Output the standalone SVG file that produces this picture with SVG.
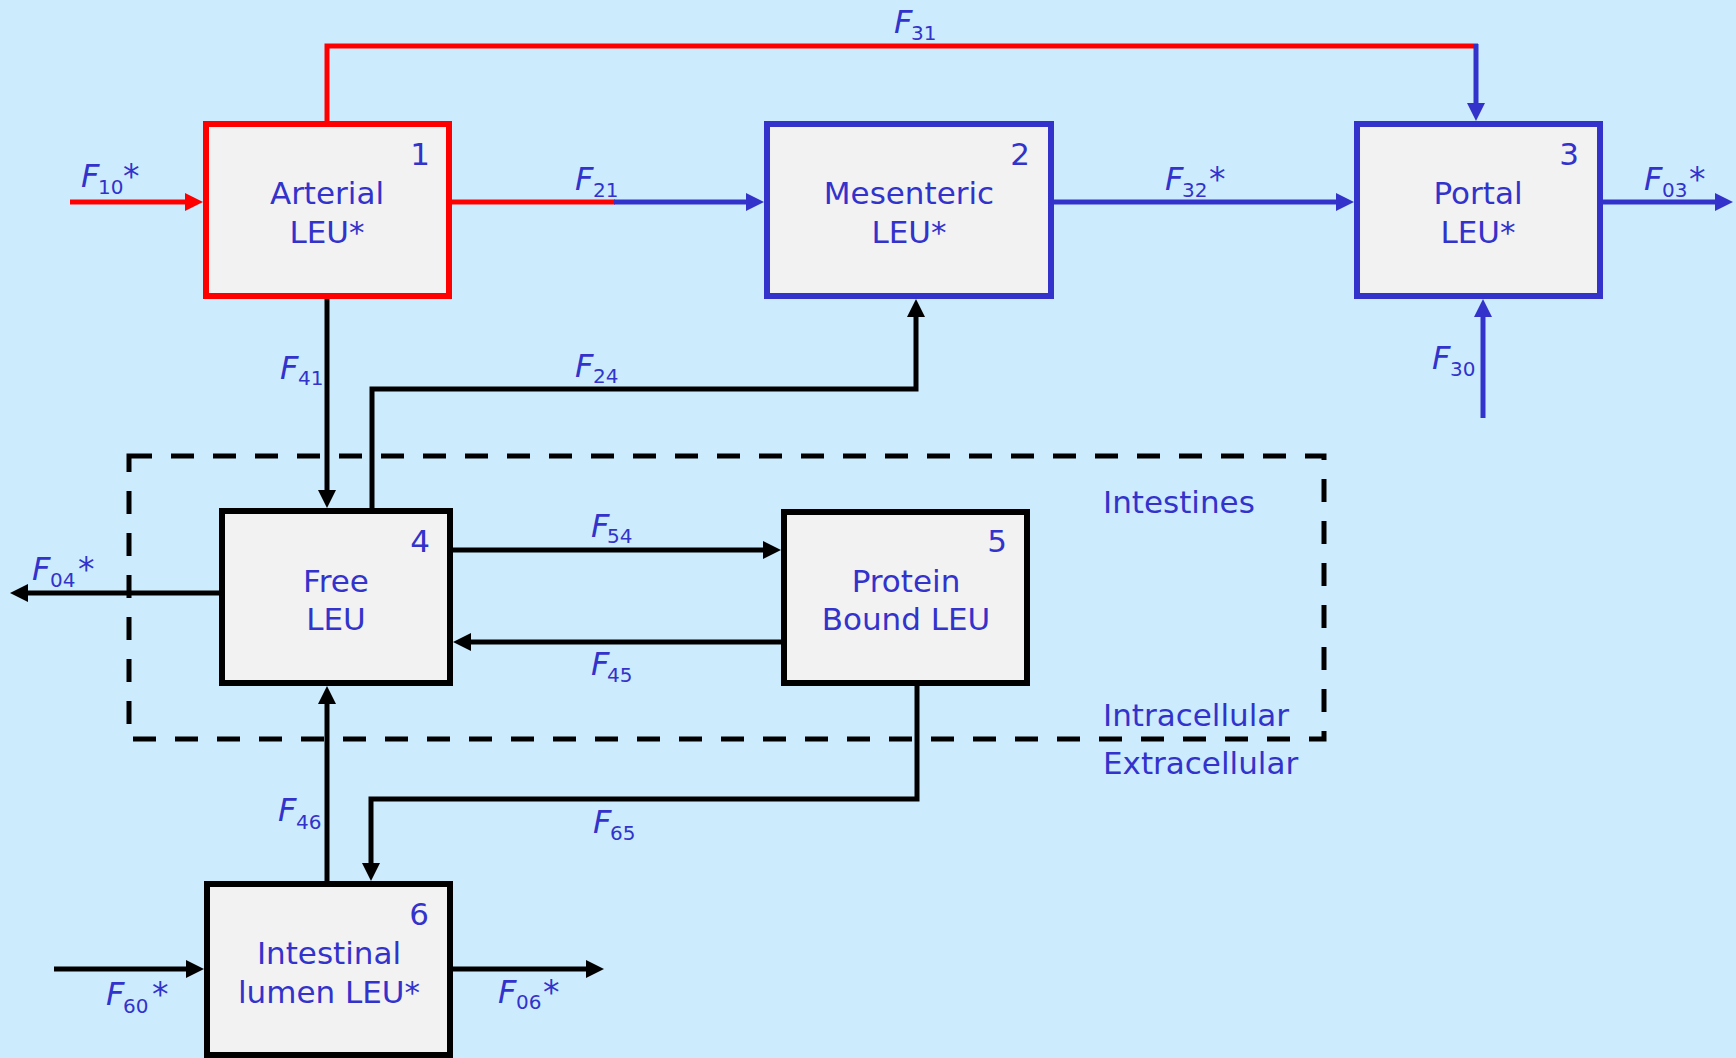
<svg xmlns="http://www.w3.org/2000/svg" width="1736" height="1058" viewBox="0 0 1736 1058">
<style>
.bg{fill:#CCECFE}
.box{fill:#F2F2F2;stroke-width:6}
.t{font-family:"DejaVu Sans",sans-serif;font-size:31px;fill:#3333CC}
.tm{text-anchor:middle}
.f{font-family:"DejaVu Sans",sans-serif;font-size:32px;font-style:italic;fill:#3333CC}
.s{font-family:"DejaVu Sans",sans-serif;font-size:20px;font-style:normal;fill:#3333CC}
.st{font-family:"DejaVu Sans",sans-serif;font-size:33px;font-style:normal;fill:#3333CC}
.k{fill:none;stroke:#000;stroke-width:5}
.r{fill:none;stroke:#FF0000;stroke-width:5}
.b{fill:none;stroke:#3333CC;stroke-width:5}
</style>
<defs>
<marker id="ak" markerUnits="userSpaceOnUse" markerWidth="19" markerHeight="19" refX="1" refY="9" orient="auto"><path d="M0,0 L18,9 L0,18 z" fill="#000"/></marker>
<marker id="ar" markerUnits="userSpaceOnUse" markerWidth="19" markerHeight="19" refX="1" refY="9" orient="auto"><path d="M0,0 L18,9 L0,18 z" fill="#FF0000"/></marker>
<marker id="ab" markerUnits="userSpaceOnUse" markerWidth="19" markerHeight="19" refX="1" refY="9" orient="auto"><path d="M0,0 L18,9 L0,18 z" fill="#3333CC"/></marker>
</defs>
<rect class="bg" x="0" y="0" width="1736" height="1058"/>

<g id="region">
<rect x="129" y="456" width="1195" height="283" fill="none" stroke="#000" stroke-width="5" stroke-dasharray="23 19"/>
<text class="t" x="1103" y="513">Intestines</text>
<text class="t" x="1103" y="726">Intracellular</text>
<text class="t" x="1103" y="774">Extracellular</text>
</g>

<g id="connectors">
<path class="r" d="M70,202 H186" marker-end="url(#ar)"/>
<path class="r" d="M452,202 H615"/>
<path class="b" d="M614,202 H747" marker-end="url(#ab)"/>
<path class="r" d="M327,121 V46 H1478"/>
<path class="b" d="M1476,44 V104" marker-end="url(#ab)"/>
<path class="b" d="M1054,202 H1337" marker-end="url(#ab)"/>
<path class="b" d="M1603,202 H1716" marker-end="url(#ab)"/>
<path class="b" d="M1483,418 V316" marker-end="url(#ab)"/>
<path class="k" d="M327,299 V491" marker-end="url(#ak)"/>
<path class="k" d="M372,509 V389 H916 V316" marker-end="url(#ak)"/>
<path class="k" d="M453,550 H764" marker-end="url(#ak)"/>
<path class="k" d="M781,642 H470" marker-end="url(#ak)"/>
<path class="k" d="M219,593 H27" marker-end="url(#ak)"/>
<path class="k" d="M917,686 V799 H371 V864" marker-end="url(#ak)"/>
<path class="k" d="M327,881 V703" marker-end="url(#ak)"/>
<path class="k" d="M54,969 H187" marker-end="url(#ak)"/>
<path class="k" d="M453,969 H587" marker-end="url(#ak)"/>

<text class="f" x="894" y="33">F<tspan class="s" x="911" y="40">31</tspan></text>
<text class="f" x="81" y="187">F<tspan class="s" x="98" y="194">10</tspan><tspan class="st" x="123" y="188">*</tspan></text>
<text class="f" x="575" y="190">F<tspan class="s" x="593" y="197">21</tspan></text>
<text class="f" x="1165" y="190">F<tspan class="s" x="1182" y="197">32</tspan><tspan class="st" x="1209" y="191">*</tspan></text>
<text class="f" x="1644" y="190">F<tspan class="s" x="1662" y="197">03</tspan><tspan class="st" x="1689" y="191">*</tspan></text>
<text class="f" x="1432" y="369">F<tspan class="s" x="1450" y="376">30</tspan></text>
<text class="f" x="280" y="379">F<tspan class="s" x="298" y="385">41</tspan></text>
<text class="f" x="575" y="377">F<tspan class="s" x="593" y="383">24</tspan></text>
<text class="f" x="591" y="537">F<tspan class="s" x="607" y="543">54</tspan></text>
<text class="f" x="591" y="675">F<tspan class="s" x="607" y="682">45</tspan></text>
<text class="f" x="32" y="580">F<tspan class="s" x="50" y="587">04</tspan><tspan class="st" x="78" y="581">*</tspan></text>
<text class="f" x="278" y="821">F<tspan class="s" x="296" y="829">46</tspan></text>
<text class="f" x="593" y="833">F<tspan class="s" x="610" y="840">65</tspan></text>
<text class="f" x="106" y="1005">F<tspan class="s" x="123" y="1013">60</tspan><tspan class="st" x="152" y="1006">*</tspan></text>
<text class="f" x="498" y="1003">F<tspan class="s" x="516" y="1009">06</tspan><tspan class="st" x="543" y="1004">*</tspan></text>
</g>

<g id="node1">
<rect class="box" x="206" y="124" width="243" height="172" stroke="#FF0000"/>
<text class="t tm" x="327" y="204">Arterial</text>
<text class="t tm" x="327" y="243">LEU*</text>
<text class="t tm" x="420" y="165">1</text>
</g>
<g id="node2">
<rect class="box" x="767" y="124" width="284" height="172" stroke="#3333CC"/>
<text class="t tm" x="909" y="204">Mesenteric</text>
<text class="t tm" x="909" y="243">LEU*</text>
<text class="t tm" x="1020" y="165">2</text>
</g>
<g id="node3">
<rect class="box" x="1357" y="124" width="243" height="172" stroke="#3333CC"/>
<text class="t tm" x="1478" y="204">Portal</text>
<text class="t tm" x="1478" y="243">LEU*</text>
<text class="t tm" x="1569" y="165">3</text>
</g>
<g id="node4">
<rect class="box" x="222" y="511" width="228" height="172" stroke="#000"/>
<text class="t tm" x="336" y="592">Free</text>
<text class="t tm" x="336" y="630">LEU</text>
<text class="t tm" x="420" y="552">4</text>
</g>
<g id="node5">
<rect class="box" x="784" y="512" width="243" height="171" stroke="#000"/>
<text class="t tm" x="906" y="592">Protein</text>
<text class="t tm" x="906" y="630">Bound LEU</text>
<text class="t tm" x="997" y="552">5</text>
</g>
<g id="node6">
<rect class="box" x="207" y="884" width="243" height="171" stroke="#000"/>
<text class="t tm" x="329" y="964">Intestinal</text>
<text class="t tm" x="329" y="1003">lumen LEU*</text>
<text class="t tm" x="419" y="925">6</text>
</g>
</svg>
